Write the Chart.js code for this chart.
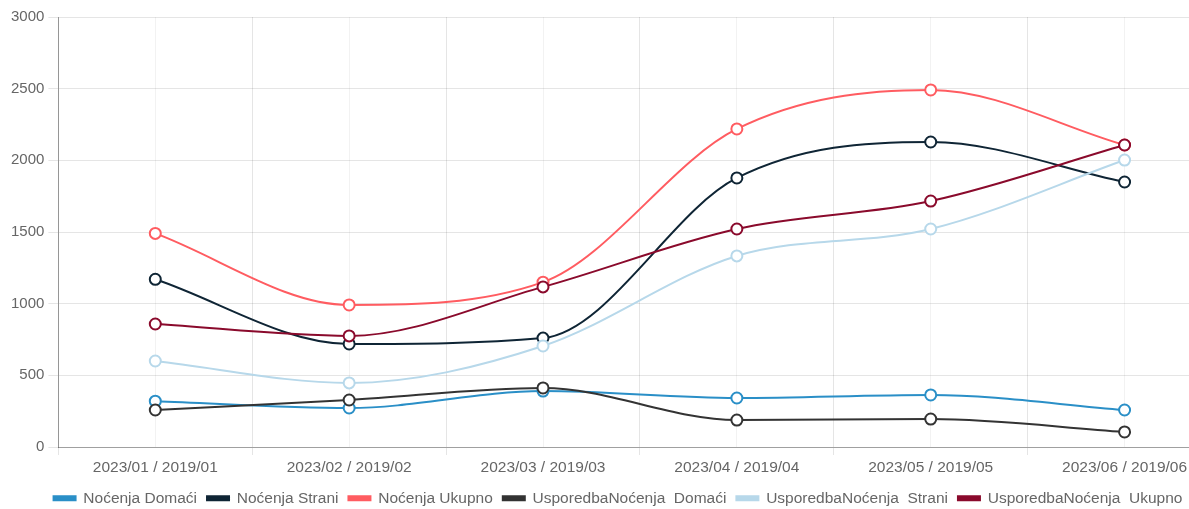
<!DOCTYPE html>
<html>
<head>
<meta charset="utf-8">
<script src="https://cdn.jsdelivr.net/npm/chart.js@4/dist/chart.umd.min.js"></script>
<style>
  html, body { margin: 0; padding: 0; overflow: hidden; background: #fff; }
  #wrap { width: 1229px; height: 509px; }
</style>
</head>
<body>
<div id="wrap"><canvas id="myChart"></canvas></div>
<script>
const labels = ['2023/01 / 2019/01', '2023/02 / 2019/02', '2023/03 / 2019/03', '2023/04 / 2019/04', '2023/05 / 2019/05', '2023/06 / 2019/06']
const domaci = [320, 272, 390, 342, 363, 258]
const strani = [1170, 719, 760, 1877, 2128, 1849]
const ukupno = [1490, 991, 1150, 2219, 2491, 2107]
const cmpDomaci = [258, 328, 412, 188, 195, 105]
const cmpStrani = [600, 447, 705, 1333, 1521, 2002]
const cmpUkupno = [858, 775, 1117, 1521, 1716, 2107]
const yTicks = [0, 500, 1000, 1500, 2000, 2500, 3000]

Chart.defaults.font.family = 'Arial, "Liberation Sans", sans-serif'
Chart.defaults.font.size = 15.5
Chart.defaults.color = '#666'

function line(label, data, color, i) {
  return {
    label: label,
    data: data,
    borderColor: color,
    backgroundColor: color,
    pointBackgroundColor: '#fff',
    pointBorderColor: color,
    pointBorderWidth: 2,
    pointRadius: 5.5,
    borderWidth: 2,
    cubicInterpolationMode: 'monotone',
    fill: false,
    order: -i
  }
}

const ctx = document.getElementById('myChart');

new Chart(ctx, {
  type: 'line',
  data: {
    labels: labels,
    datasets: [
      line('Noćenja Domaći', domaci, '#2a8fc7', 0),
      line('Noćenja Strani', strani, '#0f2535', 1),
      line('Noćenja Ukupno', ukupno, '#ff5c61', 2),
      line('UsporedbaNoćenja  Domaći', cmpDomaci, '#333333', 3),
      line('UsporedbaNoćenja  Strani', cmpStrani, '#b7d8ea', 4),
      line('UsporedbaNoćenja  Ukupno', cmpUkupno, '#8a0a2c', 5)
    ]
  },
  options: {
    responsive: true,
    maintainAspectRatio: false,
    animation: false,
    layout: { padding: { top: 17, left: 7, bottom: -7 } },
    plugins: {
      tooltip: { enabled: false },
      legend: {
        position: 'bottom',
        labels: {
          boxWidth: 22,
          boxHeight: 4,
          padding: 10,
          sort: (a, b) => a.datasetIndex - b.datasetIndex
        }
      }
    },
    scales: {
      x: {
        offset: true,
        grid: { offset: true, color: 'rgba(0,0,0,0.1)', tickLength: 8 },
        border: { color: 'rgba(0,0,0,0.3)' },
        ticks: { padding: 3, maxRotation: 0 },
        afterFit: (scale) => { scale.height = 33.5 }
      },
      x2: {
        type: 'category',
        position: 'bottom',
        offset: true,
        grid: { offset: false, color: 'rgba(0,0,0,0.05)', drawTicks: false },
        border: { display: false },
        ticks: { display: false }
      },
      y: {
        min: 0,
        max: 3000,
        afterBuildTicks: (scale) => { scale.ticks = yTicks.map(v => ({ value: v })) },
        grid: { color: 'rgba(0,0,0,0.1)', tickLength: 10 },
        border: { color: 'rgba(0,0,0,0.35)' },
        ticks: { padding: 4, font: { size: 15 }, callback: (v) => String(v) }
      }
    }
  }
});
</script>
</body>
</html>
